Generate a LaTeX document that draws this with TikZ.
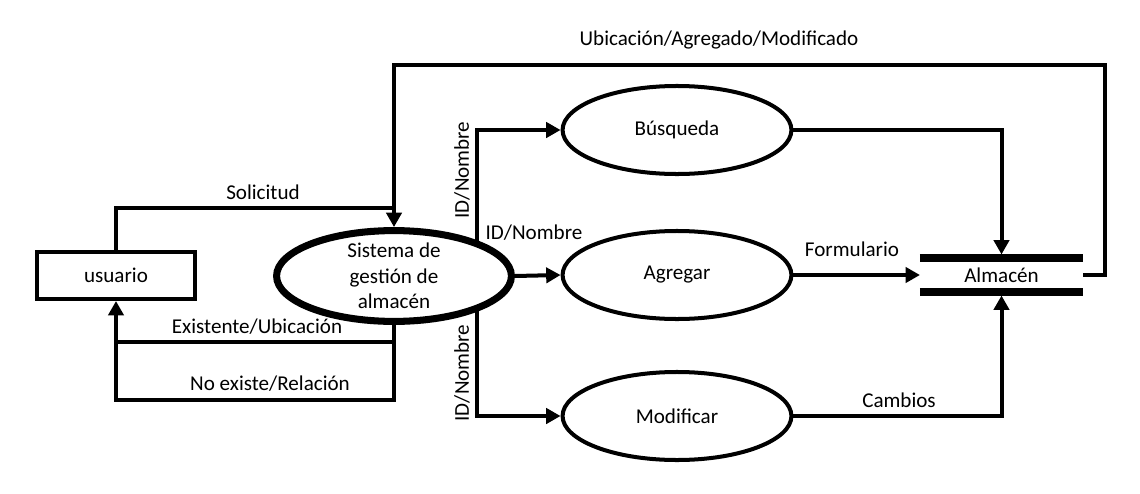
\documentclass[tikz,border=0pt]{standalone}
\usepackage{fontspec}
\setmainfont{Carlito}
\usetikzlibrary{arrows.meta,shapes.geometric}
\tikzset{
	linea/.style={line width=2.85pt},
	flujo/.style={linea,-{Triangle[length=0.36cm,width=0.38cm]}},
	proceso/.style={ellipse,draw,line width=2.85pt,minimum width=5.72cm,minimum height=2.2cm,inner sep=0pt},
	barra/.style={line width=5pt}
}
\begin{document}
\begin{tikzpicture}[x=0.025cm,y=-0.025cm,font=\fontsize{15}{13.5}\selectfont]
	\useasboundingbox (0,0) rectangle (1140,494);
	% entidades y procesos
	\node[draw,line width=2.85pt,minimum width=3.95cm,minimum height=1.175cm] (usuario) at (116,275.5) {usuario};
	\node[proceso,line width=5pt,minimum width=5.87cm,minimum height=2.27cm,inner ysep=-8pt,align=center,font=\fontsize{15}{18}\selectfont] (sistema) at (394,276) {Sistema de\\gestión de\\almacén};
	\node[proceso] (busqueda) at (677,130) {Búsqueda};
	\node[proceso] (agregar) at (677,275) {Agregar};
	\node[proceso] (modificar) at (677,416) {Modificar};
	\node[minimum width=4.075cm,minimum height=0.85cm,inner sep=0pt,outer sep=0pt] (almacen) at (1001.5,275) {Almacén};
	\draw[barra] (almacen.north west)--(almacen.north east);
	\draw[barra] (almacen.south west)--(almacen.south east);
	\coordinate (union) at (394,208);
	\coordinate (retorno) at (1105,65);
	\coordinate (salida1) at (394,342);
	\coordinate (salida2) at (394,400);
	% flujos
	\draw[flujo] (usuario.north) |- (union) -- (sistema.north);
	\draw[linea] (almacen.east) -| (retorno) -| (union);
	\draw[flujo] (sistema.south) -- (salida1) -| (usuario.south);
	\draw[linea] (salida1) -- (salida2) -| (usuario.south |- salida1);
	\draw[flujo] (sistema.23) |- (busqueda.west);
	\draw[flujo] (sistema.east) -- (agregar.west);
	\draw[flujo] (sistema.-23) |- (modificar.west);
	\draw[flujo,shorten >=2.5pt] (busqueda.east) -| (almacen.north);
	\draw[flujo] (agregar.east) -- (almacen.west);
	\draw[flujo,shorten >=2.5pt] (modificar.east) -| (almacen.south);
	% etiquetas
	\node (lsolicitud) at (263,192) {Solicitud};
	\node (lexistente) at (257,327) {Existente/Ubicación};
	\node (lnoexiste) at (270,384) {No existe/Relación};
	\node (lretorno) at (719,40) {Ubicación/Agregado/Modificado};
	\node[rotate=90] (lbusqueda) at (462,170) {ID/Nombre};
	\node (lagregar) at (534,233) {ID/Nombre};
	\node[rotate=90] (lmodificar) at (462,373) {ID/Nombre};
	\node (lformulario) at (852,249) {Formulario};
	\node (lcambios) at (899,400) {Cambios};
\end{tikzpicture}
\end{document}
